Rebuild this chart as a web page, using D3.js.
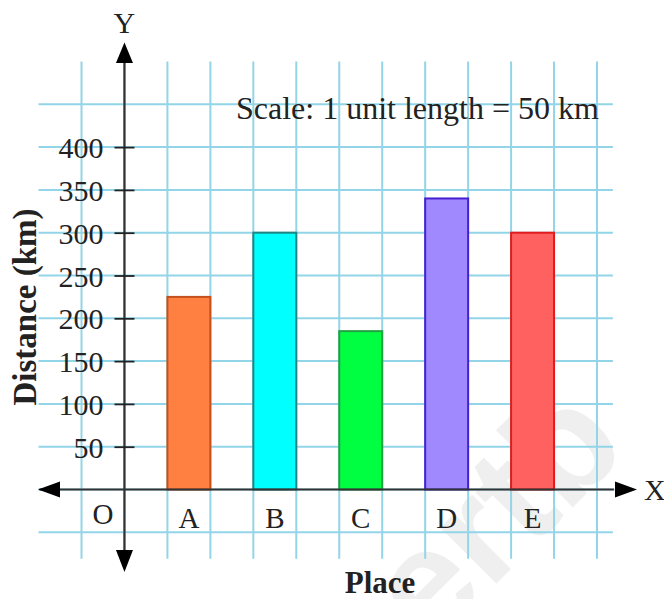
<!DOCTYPE html>
<html>
<head>
<meta charset="utf-8">
<script src="https://cdn.jsdelivr.net/npm/d3@7"></script>
<style>
html,body{margin:0;padding:0;background:#fff;overflow:hidden;}
svg{display:block;}
text{font-family:"Liberation Serif","Times New Roman",serif;fill:#222;}
</style>
</head>
<body>
<svg id="chart" width="664" height="599"></svg>
<script>
// ---- data ----
const places = ["A", "B", "C", "D", "E"];
const distances = [225, 300, 185, 340, 300];
const placeSlots = [1, 3, 5, 7, 9];           // grid unit where each bar starts
const yTicks = [50, 100, 150, 200, 250, 300, 350, 400];
const barFills = ["#FF8040", "#00FFFF", "#00FF40", "#A088FF", "#FF6060"];
const barStrokes = ["#C4501E", "#1E8585", "#22A044", "#4422D0", "#E01C1C"];
const scaleNote = "Scale: 1 unit length = 50 km";

const svg = d3.select("#chart");
const x = d3.scaleLinear().domain([-1, 11]).range([81.5, 597]);
const y = d3.scaleLinear().domain([-50, 450]).range([532.3, 104.3]);
const gridColor = "#93D5E8";

// watermark
svg.append("text")
  .attr("x", 430).attr("y", 650)
  .attr("transform", "rotate(-45,430,650)")
  .style("font-family", "'Liberation Sans',Arial,sans-serif")
  .style("font-weight", "bold")
  .style("font-size", "150px")
  .style("fill", "#efefef")
  .text("ertb");

// grid
const g = svg.append("g");
g.selectAll("line.v").data(d3.range(-1, 12)).join("line")
  .attr("x1", d => x(d)).attr("x2", d => x(d))
  .attr("y1", y(500)).attr("y2", y(-81))
  .attr("stroke", gridColor).attr("stroke-width", 2);
g.selectAll("line.h").data(d3.range(-50, 451, 50)).join("line")
  .attr("y1", d => y(d)).attr("y2", d => y(d))
  .attr("x1", x(-2)).attr("x2", x(11.37))
  .attr("stroke", gridColor).attr("stroke-width", 2);

// scale note
svg.append("text").attr("x", 236).attr("y", 119)
  .style("font-size", "32px").text(scaleNote);

// bars
svg.append("g").selectAll("rect").data(places).join("rect")
  .attr("x", (d, i) => x(placeSlots[i]))
  .attr("width", (d, i) => x(placeSlots[i] + 1) - x(placeSlots[i]))
  .attr("y", (d, i) => y(distances[i]))
  .attr("height", (d, i) => y(0) - y(distances[i]))
  .attr("fill", (d, i) => barFills[i])
  .attr("stroke", (d, i) => barStrokes[i])
  .attr("stroke-width", 2);

// axes lines
const axisColor = "#333";
svg.append("line").attr("x1", x(-1.98)).attr("x2", x(11.4))
  .attr("y1", y(0)).attr("y2", y(0)).attr("stroke", axisColor).attr("stroke-width", 2.2);
svg.append("line").attr("x1", x(0)).attr("x2", x(0))
  .attr("y1", y(510)).attr("y2", y(-90)).attr("stroke", axisColor).attr("stroke-width", 2.2);

// arrowheads
function tri(pts) {
  svg.append("path").attr("d", d3.line()(pts)).attr("fill", "#000");
}
const x0 = x(0), y0 = y(0);
tri([[x0, 42.5], [x0 - 8.5, 63], [x0 + 8.5, 63]]);
tri([[x0, 572], [x0 - 8.5, 550], [x0 + 8.5, 550]]);
tri([[38, y0], [60, y0 - 8], [60, y0 + 8]]);
tri([[637, y0], [615, y0 - 8], [615, y0 + 8]]);

// y ticks
const yAxis = d3.axisLeft(y).tickValues(yTicks).tickSizeInner(10).tickSizeOuter(0).tickPadding(12);
const ya = svg.append("g").attr("transform", `translate(${x0},0)`).call(yAxis);
ya.select(".domain").remove();
ya.selectAll(".tick line").attr("x2", 10).attr("x1", -10).attr("stroke", "#222").attr("stroke-width", 1.8);
ya.selectAll(".tick text").attr("x", -21).attr("dy", "0.35em")
  .style("font-family", "'Liberation Serif',serif").style("font-size", "30px").attr("fill", "#222");

// x labels
svg.append("g").selectAll("text").data(places).join("text")
  .attr("x", (d, i) => x(placeSlots[i] + 0.5)).attr("y", 528)
  .attr("text-anchor", "middle").style("font-size", "29px").text(d => d);
svg.append("text").attr("x", x(-0.5)).attr("y", 524)
  .attr("text-anchor", "middle").style("font-size", "29px").text("O");

// axis letters
svg.append("text").attr("x", x0).attr("y", 33).attr("text-anchor", "middle")
  .style("font-size", "30px").text("Y");
svg.append("text").attr("x", 644).attr("y", y0 + 10)
  .style("font-size", "30px").text("X");

// axis titles
svg.append("text").attr("x", 380).attr("y", 593).attr("text-anchor", "middle")
  .style("font-size", "31px").style("font-weight", "bold").text("Place");
svg.append("text").attr("transform", "translate(36,307) rotate(-90)")
  .attr("text-anchor", "middle")
  .style("font-size", "33px").style("font-weight", "bold").text("Distance (km)");
</script>
</body>
</html>
